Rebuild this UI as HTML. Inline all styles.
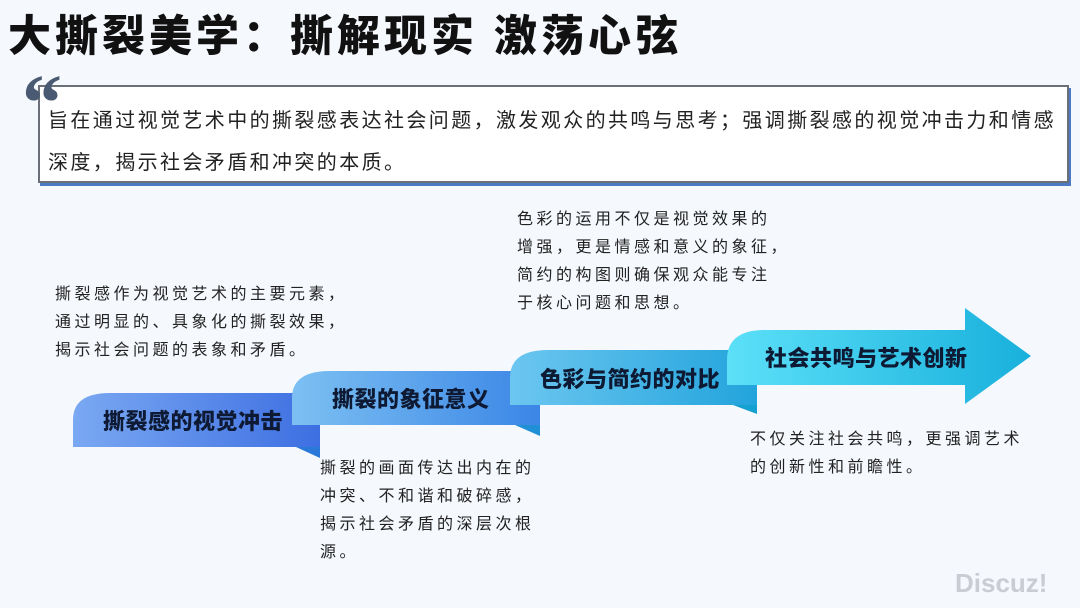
<!DOCTYPE html><html><head><meta charset="utf-8"><style>
body{margin:0;width:1080px;height:608px;background:#f5f8fd;position:relative;overflow:hidden;font-family:"Liberation Sans","Noto Sans CJK SC",sans-serif;}
.t{position:absolute;white-space:nowrap;}
.h{left:8px;top:2px;font-size:43px;font-weight:900;color:#111;letter-spacing:4px}
.box{position:absolute;left:38px;top:85px;width:1027px;height:94px;background:#fff;border:2px solid #6a6f78;box-shadow:2px 3px 0 #4b79c4;}
.q{left:22px;top:64px;font-size:80px;font-weight:900;color:#4a5a72;font-family:"Liberation Serif",serif;line-height:1}
.bt{left:48px;font-size:20px;color:#222;letter-spacing:2.4px}
.d{font-size:16px;color:#222;letter-spacing:3.5px;line-height:28px}
.lb{font-size:22px;font-weight:900;color:#0e1a33;letter-spacing:0.5px}
</style></head><body>
<div class="t h">大撕裂美学：撕解现实 激荡心弦</div>
<div class="box"></div>
<div class="t q">“</div>
<div class="t bt" style="top:104px">旨在通过视觉艺术中的撕裂感表达社会问题，激发观众的共鸣与思考；强调撕裂感的视觉冲击力和情感</div>
<div class="t bt" style="top:146px">深度，揭示社会矛盾和冲突的本质。</div>
<svg style="position:absolute;left:0;top:0" width="1080" height="608">
<defs>
<linearGradient id="g1" x1="0" x2="1"><stop offset="0" stop-color="#7aa8f2"/><stop offset="1" stop-color="#3d6fe2"/></linearGradient>
<linearGradient id="g2" x1="0" x2="1"><stop offset="0" stop-color="#7cc0f2"/><stop offset="1" stop-color="#3b86e6"/></linearGradient>
<linearGradient id="g3" x1="0" x2="1"><stop offset="0" stop-color="#6cc6f0"/><stop offset="1" stop-color="#22a4dc"/></linearGradient>
<linearGradient id="g4" x1="0" x2="1"><stop offset="0" stop-color="#5ce0f8"/><stop offset="1" stop-color="#18b0dc"/></linearGradient>
</defs>
<path d="M296,447 L320,447 L320,458 Z" fill="#2a78d8"/>
<path d="M73,447 L73,420 Q73,393 110,393 L320,393 L320,447 Z" fill="url(#g1)"/>
<path d="M515,425 L540,425 L540,436 Z" fill="#1f8fd6"/>
<path d="M292,425 L292,398 Q292,371 330,371 L540,371 L540,425 Z" fill="url(#g2)"/>
<path d="M733,405 L757,405 L757,414 Z" fill="#14a0d0"/>
<path d="M510,405 L510,378 Q510,350 548,350 L757,350 L757,405 Z" fill="url(#g3)"/>
<path d="M727,385 L727,360 Q727,330 765,330 L965,330 L965,308 L1031,356 L965,404 L965,385 Z" fill="url(#g4)"/>
</svg>
<div class="t lb" style="left:103px;top:404px">撕裂感的视觉冲击</div>
<div class="t lb" style="left:332px;top:382px">撕裂的象征意义</div>
<div class="t lb" style="left:540px;top:362px">色彩与简约的对比</div>
<div class="t lb" style="left:765px;top:341px">社会共鸣与艺术创新</div>
<div class="t d" style="left:55px;top:281px">撕裂感作为视觉艺术的主要元素，<br>通过明显的、具象化的撕裂效果，<br>揭示社会问题的表象和矛盾。</div>
<div class="t d" style="left:320px;top:455px">撕裂的画面传达出内在的<br>冲突、不和谐和破碎感，<br>揭示社会矛盾的深层次根<br>源。</div>
<div class="t d" style="left:517px;top:206px">色彩的运用不仅是视觉效果的<br>增强，更是情感和意义的象征，<br>简约的构图则确保观众能专注<br>于核心问题和思想。</div>
<div class="t d" style="left:750px;top:426px">不仅关注社会共鸣，更强调艺术<br>的创新性和前瞻性。</div>
<div class="t" style="left:955px;top:568px;font-size:26px;font-weight:bold;color:#c9ccd2">Discuz!</div>
</body></html>
